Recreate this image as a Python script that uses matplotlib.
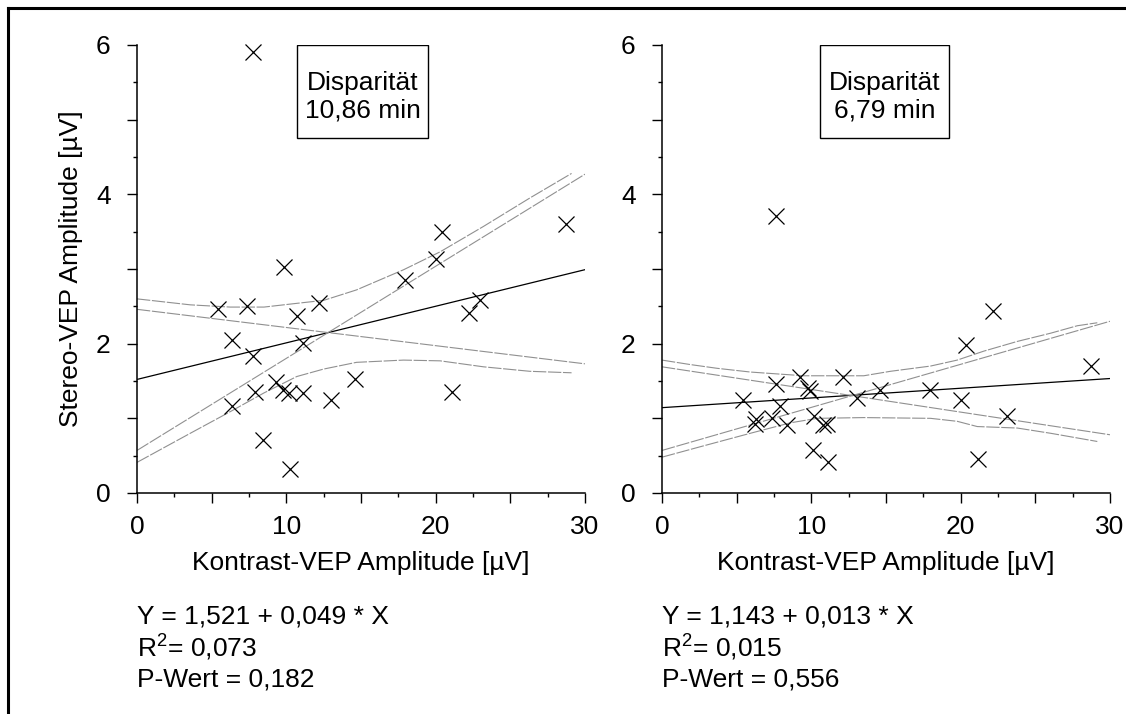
import matplotlib
matplotlib.use("Agg")
import matplotlib.pyplot as plt
from matplotlib.lines import Line2D
from matplotlib.patches import Rectangle
from matplotlib.ticker import MultipleLocator, FuncFormatter
import numpy as np

plt.rcParams['font.family'] = ['Liberation Sans', 'DejaVu Sans']
plt.rcParams['mathtext.fontset'] = 'custom'
plt.rcParams['mathtext.rm'] = 'Liberation Sans'

# Disparität 10,86 min
x_left = [7.74, 9.86, 20.41, 28.71, 20.03, 17.96, 12.16, 5.42, 7.36, 10.71, 22.98, 22.20, 6.36,
          11.11, 7.76, 9.30, 14.63, 7.92, 9.81, 10.15, 11.09, 13.0, 21.10, 6.36, 8.43, 10.22]
y_left = [5.90, 3.03, 3.49, 3.60, 3.14, 2.85, 2.54, 2.47, 2.51, 2.37, 2.58, 2.41, 2.05,
          2.01, 1.84, 1.49, 1.53, 1.35, 1.38, 1.34, 1.34, 1.24, 1.35, 1.16, 0.71, 0.32]
fit_left = (1.521, 0.049)
band_x_left = [0, 3.57, 6.25, 8.5, 10.7, 12.5, 14.7, 17.85, 20.3, 23.2, 26.3, 29.1]
band_hi_left = [2.60, 2.52, 2.49, 2.49, 2.54, 2.58, 2.72, 2.99, 3.23, 3.57, 3.95, 4.28]
band_lo_left = [0.41, 0.80, 1.09, 1.34, 1.56, 1.66, 1.75, 1.78, 1.77, 1.69, 1.63, 1.61]
slope_lo_left = [2.46, 1.73]
slope_hi_left = [0.57, 4.27]

# Disparität 6,79 min
x_right = [7.66, 22.18, 20.39, 28.70, 7.66, 9.27, 12.13, 9.76, 9.90, 14.59, 17.94, 5.43, 20.04,
           13.07, 7.93, 6.32, 6.25, 7.37, 8.38, 10.16, 10.79, 11.06, 23.07, 10.12, 11.12, 21.15]
y_right = [3.71, 2.44, 1.98, 1.70, 1.46, 1.56, 1.56, 1.40, 1.36, 1.38, 1.38, 1.24, 1.24,
           1.27, 1.17, 0.99, 0.93, 1.00, 0.91, 1.03, 0.91, 0.93, 1.03, 0.58, 0.42, 0.46]
fit_right = (1.143, 0.013)
band_hi_x_right = [0, 1.9, 3.69, 5.92, 9.49, 13.51, 15.30, 17.98, 19.77, 21.55, 23.79, 26.02, 27.81, 29.15]
band_hi_right = [1.78, 1.72, 1.67, 1.62, 1.57, 1.57, 1.63, 1.70, 1.78, 1.90, 2.03, 2.14, 2.24, 2.28]
band_lo_x_right = [0, 2.57, 5.92, 8.60, 10.39, 13.51, 17.98, 19.77, 21.11, 23.79, 26.02, 29.15]
band_lo_right = [0.48, 0.62, 0.80, 0.94, 1.00, 1.01, 1.00, 0.96, 0.89, 0.87, 0.80, 0.69]
slope_lo_right = [1.69, 0.78]
slope_hi_right = [0.57, 2.30]

line_ends = [0, 30]

panels = [
    dict(x=x_left, y=y_left, fit=fit_left, bx_hi=band_x_left, b_hi=band_hi_left,
         bx_lo=band_x_left, b_lo=band_lo_left, s_lo=slope_lo_left, s_hi=slope_hi_left,
         title="Disparität\n10,86 min", box=(10.7, 19.5),
         stats=["Y = 1,521 + 0,049 * X", r"R$^{\mathregular{2}}$= 0,073", "P-Wert = 0,182"]),
    dict(x=x_right, y=y_right, fit=fit_right, bx_hi=band_hi_x_right, b_hi=band_hi_right,
         bx_lo=band_lo_x_right, b_lo=band_lo_right, s_lo=slope_lo_right, s_hi=slope_hi_right,
         title="Disparität\n6,79 min", box=(10.55, 19.25),
         stats=["Y = 1,143 + 0,013 * X", r"R$^{\mathregular{2}}$= 0,015", "P-Wert = 0,556"]),
]

fig = plt.figure(figsize=(11.26, 7.14), dpi=100)
lefts = [137 / 1126, 662 / 1126]
band_style = dict(color='#909090', lw=0.8, dashes=(12, 1.5))
fs = 19

for left, p in zip(lefts, panels):
    ax = fig.add_axes([left, 221 / 714, 448 / 1126, 448 / 714])

    xs = np.array(line_ends)
    ax.plot(xs, p['fit'][0] + p['fit'][1] * xs, color='black', lw=0.9)
    ax.plot(p['bx_hi'], p['b_hi'], **band_style)
    ax.plot(p['bx_lo'], p['b_lo'], **band_style)
    ax.plot(line_ends, p['s_lo'], **band_style)
    ax.plot(line_ends, p['s_hi'], **band_style)
    ax.plot(p['x'], p['y'], linestyle='none', marker='x', markersize=11,
            markeredgewidth=0.9, color='black', clip_on=False)

    ax.set_xlim(0, 30)
    ax.set_ylim(0, 6)
    for side in ['top', 'right']:
        ax.spines[side].set_visible(False)
    for side in ['left', 'bottom']:
        ax.spines[side].set_linewidth(1.1)

    ax.xaxis.set_major_locator(MultipleLocator(5))
    ax.xaxis.set_minor_locator(MultipleLocator(2.5))
    ax.yaxis.set_major_locator(MultipleLocator(1))
    ax.yaxis.set_minor_locator(MultipleLocator(0.5))
    ax.xaxis.set_major_formatter(FuncFormatter(lambda v, pos: f"{v:.0f}" if v % 10 == 0 else ""))
    ax.yaxis.set_major_formatter(FuncFormatter(lambda v, pos: f"{v:.0f}" if v % 2 == 0 else ""))
    ax.tick_params(which='major', direction='out', length=7, width=1, labelsize=fs)
    ax.tick_params(which='minor', direction='out', length=3, width=1)
    ax.tick_params(axis='x', which='major', pad=9)
    ax.tick_params(axis='y', which='major', pad=12)

    ax.set_xlabel("Kontrast-VEP Amplitude [µV]", fontsize=fs)
    ax.xaxis.set_label_coords(0.5, -0.13)

    x0, x1 = p['box']
    ax.add_patch(Rectangle((x0, 4.75), x1 - x0, 1.25, fill=False, edgecolor='black', lw=1))
    ax.text((x0 + x1) / 2, 5.31, p['title'], ha='center', va='center', fontsize=fs,
            linespacing=1.2)

    for i, s in enumerate(p['stats']):
        ax.text(0, [-0.2924, -0.3638, -0.433][i], s, transform=ax.transAxes,
                ha='left', va='baseline', fontsize=fs)

    if left == lefts[0]:
        ax.set_ylabel("Stereo-VEP Amplitude [µV]", fontsize=fs)
        ax.yaxis.set_label_coords(-0.12, 0.5)

# outer frame (left and top edge)
fig.add_artist(Line2D([8 / 1126, 8 / 1126], [0, 1 - 8 / 714], color='black', lw=2.2))
fig.add_artist(Line2D([8 / 1126, 1], [1 - 8 / 714, 1 - 8 / 714], color='black', lw=2.2))

fig.savefig("out.png", dpi=100)
